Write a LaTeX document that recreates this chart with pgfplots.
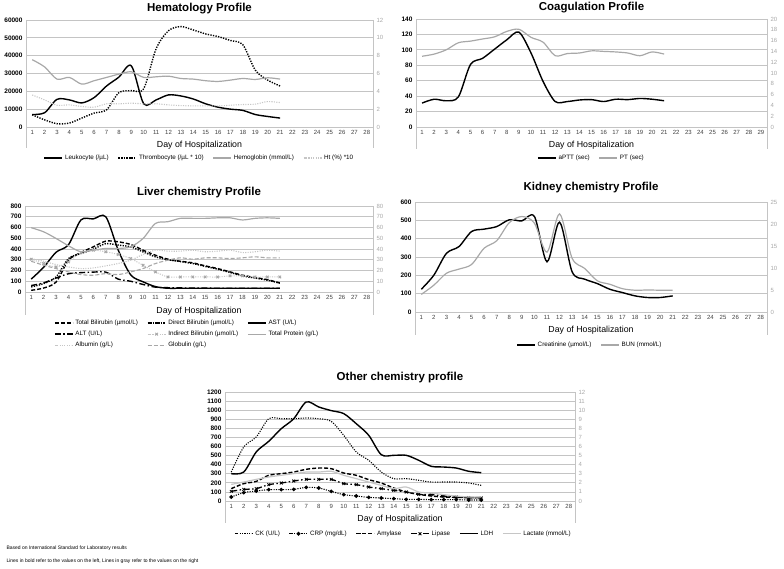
\documentclass[border=0pt]{standalone}
\usepackage{fontspec}
\setmainfont{Liberation Sans}
\usepackage{pgfplots}
\pgfplotsset{compat=1.18}
\definecolor{gridc}{HTML}{C4C4C4}
\definecolor{grayline}{HTML}{A8A8A8}
\definecolor{lgray}{HTML}{C6C6C6}
\definecolor{ticktext}{HTML}{404040}
\definecolor{rtick}{HTML}{A8A8A8}
\pgfplotsset{
  base/.style={scale only axis, xmin=0.5, xmax=28.5, ymin=0,
    /pgf/number format/assume math mode=true, /pgf/number format/1000 sep={},
    scaled y ticks=false, major tick length=0pt, axis line style={draw=none}},
  leftax/.style={base, xtick={1,...,28},
    ymajorgrids, grid style={gridc, line width=0.8pt},
    xticklabel style={font=\fontsize{6}{7}\selectfont, text=ticktext},
    yticklabel style={font=\fontsize{6.5}{7}\selectfont\bfseries, text=black},
    xlabel={Day of Hospitalization},
    xlabel style={font=\fontsize{8.8}{10}\selectfont, anchor=center},
    every axis title shift=0pt,
    title style={font=\fontsize{11.5}{13}\selectfont\bfseries, anchor=center, yshift=0pt},
    legend style={draw=none, fill=none, font=\fontsize{6.3}{7.5}\selectfont, anchor=center,
      /tikz/every even column/.append style={column sep=7pt}, row sep=1pt},
    legend cell align=left,
    legend image code/.code={\draw[mark repeat=2,mark phase=2] plot coordinates {(0pt,0pt) (9pt,0pt) (18pt,0pt)};},
    clip mode=individual},
  rightax/.style={base, axis y line*=right, axis x line=none, xtick=\empty,
    yticklabel style={font=\fontsize{6}{7}\selectfont, text=rtick}},
  blk/.style={black, line width=1.4pt, smooth, no markers},
  blkdot/.style={black, line width=1.4pt, smooth, no markers, dash pattern=on 1.3pt off 1.3pt},
  blkthindot/.style={black, line width=1.1pt, smooth, no markers, dash pattern=on 1.1pt off 1.3pt},
  blkdash/.style={black, line width=1.4pt, smooth, no markers, dash pattern=on 4pt off 2pt},
  blkdashdot/.style={black, line width=1.4pt, smooth, no markers, dash pattern=on 6pt off 2.5pt on 1.5pt off 2.5pt},
  gry/.style={grayline, line width=1.2pt, smooth, no markers},
  lgry/.style={lgray, line width=1.2pt, smooth, no markers},
  lgrydot/.style={lgray, line width=1.1pt, smooth, no markers, dash pattern=on 1.1pt off 1.3pt},
  grydash/.style={grayline, line width=1.1pt, smooth, no markers, dash pattern=on 4pt off 2pt},
  grydotx/.style={lgray, line width=1.0pt, smooth, dash pattern=on 1.1pt off 1.3pt, mark=x, mark size=1.8pt, mark options={solid, grayline}},
  crp/.style={black, line width=1.1pt, smooth, dash pattern=on 1.1pt off 1.3pt, mark=*, mark size=1.3pt, mark options={solid}},
  lip/.style={black, line width=1.3pt, smooth, dash pattern=on 6pt off 2.5pt on 1.5pt off 2.5pt, mark=x, mark size=2pt, mark options={solid, line width=0.8pt}},
}
\begin{document}
\begin{tikzpicture}
\path[use as bounding box] (0,0) rectangle (784pt,568pt);

% ---------------- Hematology ----------------
\begin{axis}[leftax, at={(26pt,441pt)}, anchor=south west, width=347pt, height=107pt,
  ymax=60000, ytick={0,10000,...,60000},
  title={Hematology Profile}, title style={at={(axis description cs:0.5,1.11)}, anchor=center, yshift=0pt},
  xlabel style={at={(axis description cs:0.5,-0.17)}},
  legend style={at={(0.5,-0.29)}}, legend columns=-1]
\addplot[blk] coordinates {(1,7000) (2,8000) (3,15500) (4,15200) (5,13500) (6,16500) (7,23000) (8,28000) (9,34300) (10,13000) (11,15200) (12,18000) (13,17400) (14,15700) (15,13000) (16,11100) (17,10000) (18,9300) (19,7000) (20,5900) (21,5000)};
\addlegendentry{Leukocyte (/µL)}
\addplot[blkdot] coordinates {(1,6850) (2,4000) (3,1850) (4,2200) (5,5000) (6,7800) (7,9600) (8,19300) (9,20400) (10,21500) (11,43900) (12,54000) (13,56300) (14,54400) (15,52200) (16,50700) (17,48500) (18,46100) (19,31900) (20,26300) (21,23000)};
\addlegendentry{Thrombocyte (/µL * 10)}
\addlegendimage{gry}
\addlegendentry{Hemoglobin (mmol/L)}
\addlegendimage{lgrydot}
\addlegendentry{Ht (\%) *10}
\draw[gridc, line width=0.8pt] (rel axis cs:0,1) -- (rel axis cs:0,-0.2);
\draw[gridc, line width=0.8pt] (rel axis cs:1,1) -- (rel axis cs:1,-0.2);
\end{axis}
\begin{axis}[rightax, at={(26pt,441pt)}, anchor=south west, width=347pt, height=107pt,
  ymax=12, ytick={0,2,...,12}]
\addplot[gry] coordinates {(1,7.55) (2,6.74) (3,5.37) (4,5.56) (5,4.81) (6,5.19) (7,5.56) (8,5.93) (9,6.19) (10,5.56) (11,5.63) (12,5.7) (13,5.44) (14,5.37) (15,5.19) (16,5.11) (17,5.26) (18,5.44) (19,5.33) (20,5.52) (21,5.37)};
\addplot[lgrydot] coordinates {(1,3.59) (2,3.04) (3,2.44) (4,2.48) (5,2.3) (6,2.22) (7,2.6) (8,2.6) (9,2.67) (10,2.6) (11,2.6) (12,2.48) (13,2.4) (14,2.37) (15,2.37) (16,2.37) (17,2.44) (18,2.52) (19,2.56) (20,2.85) (21,2.74)};
\end{axis}

% ---------------- Coagulation ----------------
\begin{axis}[leftax, at={(416pt,441pt)}, anchor=south west, width=351pt, height=108pt,
  xmax=29.5, xtick={1,...,29},
  ymax=140, ytick={0,20,...,140},
  title={Coagulation Profile}, title style={at={(axis description cs:0.5,1.11)}, anchor=center, yshift=0pt},
  xlabel style={at={(axis description cs:0.5,-0.17)}},
  legend style={at={(0.5,-0.287)}}, legend columns=-1]
\addplot[blk] coordinates {(1,31) (2,36) (3,34) (4,39) (5,81) (6,89) (7,101) (8,113) (9,123) (10,96) (11,59) (12,33) (13,33) (14,35) (15,35.5) (16,33) (17,36) (18,35.5) (19,37) (20,36) (21,34)};
\addlegendentry{aPTT (sec)}
\addlegendimage{gry}
\addlegendentry{PT (sec)}
\draw[gridc, line width=0.8pt] (rel axis cs:0,1) -- (rel axis cs:0,-0.2);
\draw[gridc, line width=0.8pt] (rel axis cs:1,1) -- (rel axis cs:1,-0.2);
\end{axis}
\begin{axis}[rightax, at={(416pt,441pt)}, anchor=south west, width=351pt, height=108pt,
  xmax=29.5, ymax=20, ytick={0,2,...,20}]
\addplot[gry] coordinates {(1,13.1) (2,13.5) (3,14.3) (4,15.6) (5,15.9) (6,16.3) (7,16.7) (8,17.7) (9,18.1) (10,16.6) (11,15.7) (12,13.2) (13,13.6) (14,13.7) (15,14.1) (16,14.0) (17,13.9) (18,13.7) (19,13.2) (20,13.9) (21,13.5)};
\end{axis}

% ---------------- Liver ----------------
\begin{axis}[leftax, at={(25pt,276pt)}, anchor=south west, width=348pt, height=86pt,
  ymax=800, ytick={0,100,...,800},
  title={Liver chemistry Profile}, title style={at={(axis description cs:0.5,1.16)}, anchor=center, yshift=0pt},
  xlabel style={at={(axis description cs:0.5,-0.22)}},
  legend style={at={(0.466,-0.49)}}, legend columns=3]
\addplot[blkdash] coordinates {(1,16) (2,37) (3,93) (4,296) (5,367) (6,420) (7,473) (8,467) (9,442) (10,389) (11,342) (12,305) (13,286) (14,271) (15,243) (16,218) (17,187) (18,156) (19,135) (20,115) (21,84)};
\addlegendentry{Total Bilirubin (µmol/L)}
\addplot[blkdot] coordinates {(1,47) (2,78) (3,140) (4,311) (5,358) (6,398) (7,450) (8,436) (9,420) (10,373) (11,327) (12,300) (13,283) (14,265) (15,238) (16,212) (17,182) (18,150) (19,130) (20,110) (21,82)};
\addlegendentry{Direct Bilirubin (µmol/L)}
\addplot[blk] coordinates {(1,120) (2,230) (3,370) (4,440) (5,670) (6,680) (7,700) (8,390) (9,160) (10,95) (11,50) (12,35) (13,35) (14,35) (15,35) (16,35) (17,35) (18,35) (19,35) (20,35) (21,35)};
\addlegendentry{AST (U/L)}
\addplot[blkdashdot] coordinates {(1,60) (2,85) (3,130) (4,170) (5,180) (6,185) (7,185) (8,120) (9,100) (10,70) (11,45) (12,40) (13,38) (14,37) (15,36) (16,35) (17,35) (18,35) (19,35) (20,35) (21,35)};
\addlegendentry{ALT (U/L)}
\addlegendimage{grydotx}
\addlegendentry{Indirect Bilirubin (µmol/L)}
\addlegendimage{gry}
\addlegendentry{Total Protein (g/L)}
\addlegendimage{lgrydot}
\addlegendentry{Albumin (g/L)}
\addlegendimage{grydash}
\addlegendentry{Globulin (g/L)}
\draw[gridc, line width=0.8pt] (rel axis cs:0,1) -- (rel axis cs:0,-0.27);
\draw[gridc, line width=0.8pt] (rel axis cs:1,1) -- (rel axis cs:1,-0.27);
\end{axis}
\begin{axis}[rightax, at={(25pt,276pt)}, anchor=south west, width=348pt, height=86pt,
  ymax=80, ytick={0,10,...,80}]
\addplot[grydotx] coordinates {(1,30.5) (2,26.5) (3,23.3) (4,28) (5,36.7) (6,38.9) (7,37.4) (8,34.9) (9,31.1) (10,24.9) (11,18.7) (12,14) (13,14) (14,14) (15,14) (16,14) (17,15) (18,15) (19,14) (20,14) (21,14)};
\addplot[gry] coordinates {(1,59.8) (2,56) (3,49.8) (4,43) (5,37.4) (6,38.9) (7,40.5) (8,40.5) (9,42) (10,49.8) (11,63.8) (12,65.4) (13,68.5) (14,68.5) (15,68.5) (16,69) (17,69) (18,67) (19,68.5) (20,69) (21,68.5)};
\addplot[lgrydot] coordinates {(1,31) (2,28.6) (3,25.5) (4,23.3) (5,21.8) (6,22.4) (7,24.3) (8,26.5) (9,29.6) (10,34.9) (11,38.9) (12,38) (13,38) (14,38.9) (15,37.4) (16,38) (17,38.9) (18,36.7) (19,37.4) (20,38.9) (21,38)};
\addplot[grydash] coordinates {(1,28.6) (2,24.9) (3,21.8) (4,18.7) (5,16.2) (6,15.6) (7,17.1) (8,16.2) (9,18.7) (10,21.8) (11,26.5) (12,29.6) (13,31.8) (14,30.5) (15,31.8) (16,31.8) (17,31.1) (18,31.8) (19,32.7) (20,31.8) (21,31.8)};
\end{axis}

% ---------------- Kidney ----------------
\begin{axis}[leftax, at={(415pt,256pt)}, anchor=south west, width=352pt, height=110pt,
  ymax=600, ytick={0,100,...,600},
  title={Kidney chemistry Profile}, title style={at={(axis description cs:0.5,1.13)}, anchor=center, yshift=0pt},
  xlabel style={at={(axis description cs:0.5,-0.17)}},
  legend style={at={(0.497,-0.3)}}, legend columns=-1]
\addplot[blk] coordinates {(1,124) (2,201) (3,320) (4,357) (5,439) (6,452) (7,466) (8,503) (9,497) (10,521) (11,274) (12,490) (13,219) (14,179) (15,155) (16,124) (17,106) (18,88) (19,79) (20,79) (21,88)};
\addlegendentry{Creatinine (µmol/L)}
\addlegendimage{gry}
\addlegendentry{BUN (mmol/L)}
\draw[gridc, line width=0.8pt] (rel axis cs:0,1) -- (rel axis cs:0,-0.21);
\draw[gridc, line width=0.8pt] (rel axis cs:1,1) -- (rel axis cs:1,-0.21);
\end{axis}
\begin{axis}[rightax, at={(415pt,256pt)}, anchor=south west, width=352pt, height=110pt,
  ymax=25, ytick={0,5,...,25}]
\addplot[gry] coordinates {(1,4.0) (2,6.1) (3,8.8) (4,9.75) (5,10.8) (6,14.5) (7,16.2) (8,20.3) (9,21.7) (10,20.2) (11,13.6) (12,22.3) (13,12.2) (14,9.9) (15,7.1) (16,6.3) (17,5.3) (18,4.95) (19,5.0) (20,4.95) (21,4.95)};
\end{axis}

% ---------------- Other ----------------
\begin{axis}[leftax, at={(225pt,67pt)}, anchor=south west, width=350pt, height=109pt,
  ymax=1200, ytick={0,100,...,1200},
  title={Other chemistry profile}, title style={at={(axis description cs:0.5,1.13)}, anchor=center, yshift=0pt},
  xlabel style={at={(axis description cs:0.5,-0.17)}},
  legend style={at={(0.51,-0.30)}}, legend columns=-1]
\addplot[blkthindot] coordinates {(1,319) (2,595) (3,705) (4,906) (5,906) (6,906) (7,914) (8,906) (9,877) (10,723) (11,540) (12,448) (13,319) (14,246) (15,246) (16,228) (17,209) (18,209) (19,209) (20,198) (21,172)};
\addlegendentry{CK (U/L)}
\addplot[crp] coordinates {(1,44) (2,92) (3,110) (4,125) (5,125) (6,128) (7,150) (8,143) (9,106) (10,70) (11,55) (12,40) (13,33) (14,26) (15,18) (16,18) (17,15) (18,15) (19,15) (20,11) (21,11)};
\addlegendentry{CRP (mg/dL)}
\addplot[blkdash] coordinates {(1,136) (2,191) (3,216) (4,283) (5,301) (6,319) (7,349) (8,363) (9,356) (10,308) (11,283) (12,235) (13,198) (14,143) (15,99) (16,73) (17,55) (18,44) (19,40) (20,37) (21,37)};
\addlegendentry{Amylase}
\addplot[lip] coordinates {(1,106) (2,128) (3,136) (4,180) (5,198) (6,220) (7,238) (8,238) (9,238) (10,191) (11,180) (12,154) (13,136) (14,117) (15,99) (16,73) (17,70) (18,55) (19,44) (20,37) (21,33)};
\addlegendentry{Lipase}
\addplot[blk] coordinates {(1,301) (2,319) (3,540) (4,657) (5,796) (6,906) (7,1090) (8,1035) (9,995) (10,962) (11,851) (12,723) (13,510) (14,503) (15,503) (16,448) (17,382) (18,374) (19,363) (20,327) (21,312)};
\addlegendentry{LDH}
\addlegendimage{lgry}
\addlegendentry{Lactate (mmol/L)}
\draw[gridc, line width=0.8pt] (rel axis cs:0,1) -- (rel axis cs:0,-0.2);
\draw[gridc, line width=0.8pt] (rel axis cs:1,1) -- (rel axis cs:1,-0.2);
\end{axis}
\begin{axis}[rightax, at={(225pt,67pt)}, anchor=south west, width=350pt, height=109pt,
  ymax=12, ytick={0,1,...,12}]
\addplot[lgry] coordinates {(1,1.83) (2,2.09) (3,2.38) (4,2.64) (5,2.83) (6,3.01) (7,3.19) (8,3.19) (9,3.27) (10,2.83) (11,2.46) (12,2.09) (13,1.72) (14,1.36) (15,1.54) (16,0.99) (17,0.88) (18,0.70) (19,0.55) (20,0.44) (21,0.44)};
\end{axis}

\node[anchor=west, font=\fontsize{5}{6}\selectfont] at (3pt,20pt) {Based on International Standard for Laboratory results};
\node[anchor=west, font=\fontsize{5}{6}\selectfont] at (3pt,7pt) {Lines in bold refer to the values on the left, Lines in gray refer to the values on the right};
\end{tikzpicture}
\end{document}
